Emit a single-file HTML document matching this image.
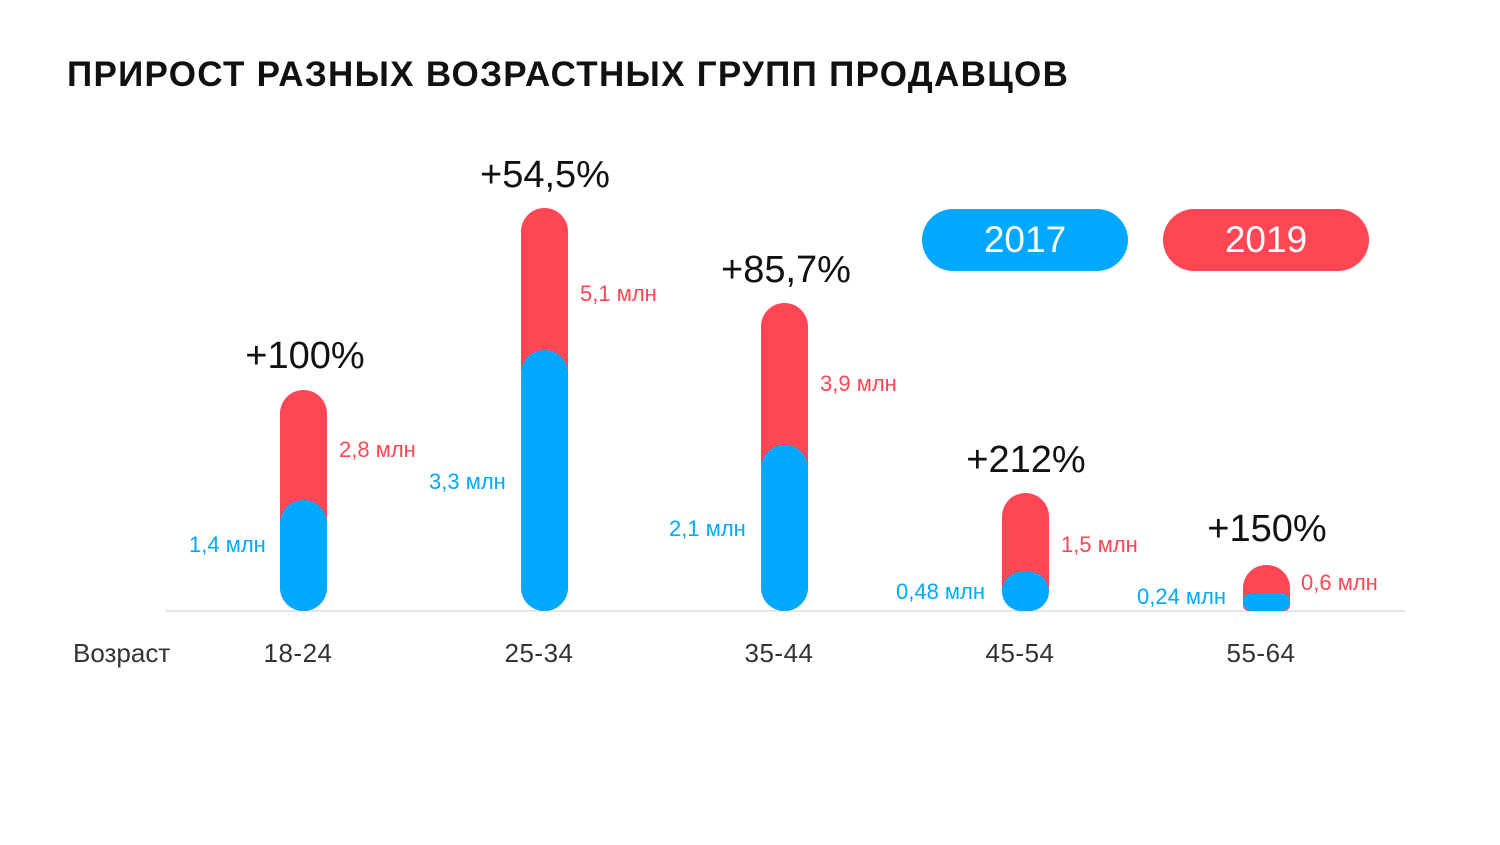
<!DOCTYPE html>
<html><head><meta charset="utf-8"><style>
body{margin:0;width:1500px;height:845px;background:#fff;position:relative;overflow:hidden;font-family:"Liberation Sans","DejaVu Sans",sans-serif}
.t{position:absolute;white-space:nowrap}
.bar{position:absolute;width:47px;border-radius:24px}
.r{background:#ff4655}.b{background:#00a8ff}
.pct{font-size:38px;color:#111;transform:translateX(-50%)}
.lb{font-size:22px}
.ax{font-size:26px;color:#333;transform:translateX(-50%);top:638px;letter-spacing:0.5px}
.pill{position:absolute;top:209px;height:62px;width:206px;border-radius:31px;color:#fff;font-size:37px;text-align:center;line-height:62px}
</style></head><body>
<div class="t" style="left:67px;top:55px;font-size:35px;font-weight:bold;color:#111;letter-spacing:1.3px">ПРИРОСТ РАЗНЫХ ВОЗРАСТНЫХ ГРУПП ПРОДАВЦОВ</div>
<div style="position:absolute;left:165px;top:610px;width:1240px;height:2px;background:#e6e6e6"></div>

<div class="bar r" style="left:280px;top:390px;height:221px"></div>
<div class="bar b" style="left:280px;top:500px;height:111px"></div>
<div class="bar r" style="left:521px;top:208px;height:403px"></div>
<div class="bar b" style="left:521px;top:350px;height:261px"></div>
<div class="bar r" style="left:761px;top:303px;height:308px"></div>
<div class="bar b" style="left:761px;top:445px;height:166px"></div>
<div class="bar r" style="left:1002px;top:493px;height:118px"></div>
<div class="bar b" style="left:1002px;top:572px;height:39px;border-radius:20px"></div>
<div class="bar r" style="left:1243px;top:565px;height:46px;border-radius:23px 23px 6px 6px"></div>
<div class="bar b" style="left:1243px;top:593px;height:18px;border-radius:9px"></div>

<div class="t pct" style="left:305px;top:335px">+100%</div>
<div class="t pct" style="left:545px;top:154px">+54,5%</div>
<div class="t pct" style="left:786px;top:249px">+85,7%</div>
<div class="t pct" style="left:1026px;top:439px">+212%</div>
<div class="t pct" style="left:1267px;top:508px">+150%</div>

<div class="t lb" style="left:339px;top:437px;color:#ff4655">2,8 млн</div>
<div class="t lb" style="left:189px;top:532px;color:#00a8ff">1,4 млн</div>
<div class="t lb" style="left:580px;top:281px;color:#ff4655">5,1 млн</div>
<div class="t lb" style="left:429px;top:469px;color:#00a8ff">3,3 млн</div>
<div class="t lb" style="left:820px;top:371px;color:#ff4655">3,9 млн</div>
<div class="t lb" style="left:669px;top:516px;color:#00a8ff">2,1 млн</div>
<div class="t lb" style="left:1061px;top:532px;color:#ff4655">1,5 млн</div>
<div class="t lb" style="left:896px;top:579px;color:#00a8ff">0,48 млн</div>
<div class="t lb" style="left:1301px;top:570px;color:#ff4655">0,6 млн</div>
<div class="t lb" style="left:1137px;top:584px;color:#00a8ff">0,24 млн</div>

<div class="t" style="left:73px;top:638px;font-size:26px;color:#333">Возраст</div>
<div class="t ax" style="left:298px">18-24</div>
<div class="t ax" style="left:539px">25-34</div>
<div class="t ax" style="left:779px">35-44</div>
<div class="t ax" style="left:1020px">45-54</div>
<div class="t ax" style="left:1261px">55-64</div>

<div class="pill b" style="left:922px">2017</div>
<div class="pill r" style="left:1163px">2019</div>
</body></html>
